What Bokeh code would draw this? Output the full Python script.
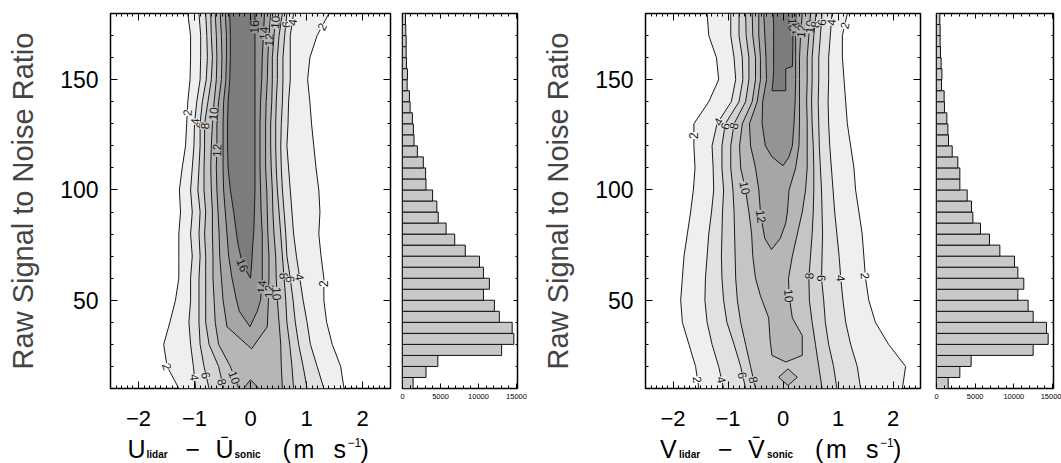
import math
import numpy as np
from bokeh.plotting import figure
from bokeh.layouts import row, column
from bokeh.models import (LinearAxis, SingleIntervalTicker, Range1d, ColumnDataSource,
                          CustomLabelingPolicy, Spacer)
from bokeh.core.properties import value
from bokeh.embed import file_html
from bokeh.resources import INLINE

FONT = "Liberation Sans"

# ---------------- data ----------------
LEVELS = [2, 4, 6, 8, 10, 12, 14, 16]
ROWS = [10, 20, 30, 40, 50, 60, 70, 80, 90, 100, 110, 120, 130, 140, 150, 160, 170, 180]

# U panel: x position (m/s) of each contour level, left and right branch
U2_LEFT = [-1.28, -1.49, -1.55, -1.44, -1.34, -1.28, -1.28, -1.28, -1.25, -1.27, -1.22, -1.16, -1.14, -1.12, -1.08, -1.07, -1.07, -1.12]
U2_RIGHT = [1.67, 1.61, 1.46, 1.36, 1.31, 1.31, 1.26, 1.22, 1.24, 1.22, 1.17, 1.13, 1.09, 1.06, 1.02, 1.06, 1.19, 1.40]
U4_LEFT = [-0.98, -1.02, -1.07, -1.10, -1.07, -1.07, -1.04, -1.07, -1.04, -1.07, -1.04, -1.01, -1.00, -0.96, -0.90, -0.89, -0.89, -0.92]
U4_RIGHT = [1.31, 1.19, 1.07, 1.01, 0.94, 0.88, 0.82, 0.77, 0.74, 0.71, 0.68, 0.65, 0.67, 0.68, 0.71, 0.71, 0.71, 0.77]
U6_LEFT = [-0.74, -0.83, -0.90, -0.92, -0.92, -0.92, -0.90, -0.92, -0.90, -0.94, -0.92, -0.90, -0.90, -0.86, -0.79, -0.77, -0.78, -0.80]
U6_RIGHT = [1.01, 0.94, 0.86, 0.80, 0.76, 0.71, 0.65, 0.63, 0.60, 0.57, 0.55, 0.54, 0.55, 0.57, 0.58, 0.58, 0.61, 0.65]
U8_LEFT = [-0.48, -0.57, -0.74, -0.80, -0.80, -0.80, -0.80, -0.82, -0.80, -0.83, -0.83, -0.82, -0.82, -0.76, -0.70, -0.68, -0.70, -0.71]
U8_RIGHT = [0.77, 0.74, 0.70, 0.65, 0.63, 0.60, 0.57, 0.54, 0.51, 0.48, 0.46, 0.45, 0.45, 0.46, 0.48, 0.48, 0.51, 0.57]
U10_LEFT = [-0.21, -0.36, -0.57, -0.63, -0.65, -0.67, -0.67, -0.68, -0.68, -0.70, -0.71, -0.70, -0.68, -0.65, -0.61, -0.60, -0.61, -0.63]
U10_RIGHT = [0.57, 0.55, 0.54, 0.51, 0.48, 0.46, 0.45, 0.42, 0.40, 0.39, 0.37, 0.36, 0.36, 0.38, 0.39, 0.39, 0.42, 0.45]
U12_SNR = [28, 38, 50, 60, 70, 80, 90, 100, 110, 120, 130, 140, 150, 160, 170, 180]
U12_LEFT = [0.02, -0.42, -0.49, -0.52, -0.55, -0.56, -0.58, -0.60, -0.61, -0.60, -0.60, -0.57, -0.52, -0.51, -0.52, -0.54]
U12_RIGHT = [0.02, 0.30, 0.32, 0.33, 0.33, 0.31, 0.30, 0.29, 0.27, 0.27, 0.27, 0.28, 0.30, 0.31, 0.33, 0.36]
U14_SNR = [38, 45, 50, 60, 70, 80, 90, 100, 110, 120, 130, 140, 150, 160, 170, 180]
U14_LEFT = [-0.01, -0.20, -0.25, -0.33, -0.39, -0.42, -0.45, -0.48, -0.49, -0.49, -0.49, -0.48, -0.44, -0.43, -0.43, -0.45]
U14_RIGHT = [-0.01, 0.12, 0.18, 0.21, 0.21, 0.21, 0.19, 0.18, 0.17, 0.17, 0.17, 0.18, 0.20, 0.21, 0.23, 0.25]
U16_SNR = [60, 66, 75, 82, 90, 100, 110, 120, 130, 140, 150, 160, 170, 180]
U16_LEFT = [0.0, -0.14, -0.22, -0.26, -0.30, -0.36, -0.40, -0.41, -0.41, -0.40, -0.37, -0.36, -0.36, -0.37]
U16_RIGHT = [0.0, 0.02, 0.04, 0.06, 0.07, 0.08, 0.08, 0.08, 0.08, 0.08, 0.08, 0.08, 0.08, 0.08]
U12_ISLAND_X = [-0.12, 0.0, 0.15]
U12_ISLAND_SNR = [10, 14, 10]

# V panel
V2_LEFT = [-1.53, -1.59, -1.71, -1.83, -1.86, -1.83, -1.80, -1.74, -1.68, -1.63, -1.60, -1.62, -1.62, -1.35, -1.17, -1.21, -1.35, -1.38]
V2_RIGHT = [2.17, 2.23, 1.92, 1.68, 1.56, 1.50, 1.47, 1.44, 1.38, 1.32, 1.29, 1.23, 1.17, 1.14, 1.11, 1.08, 1.08, 1.17]
V4_LEFT = [-1.08, -1.17, -1.29, -1.38, -1.42, -1.41, -1.38, -1.35, -1.30, -1.26, -1.27, -1.29, -1.20, -0.94, -0.86, -0.89, -0.95, -0.95]
V4_RIGHT = [1.41, 1.35, 1.23, 1.14, 1.09, 1.05, 1.02, 0.98, 0.94, 0.91, 0.88, 0.85, 0.83, 0.82, 0.83, 0.83, 0.86, 0.89]
V6_LEFT = [-0.68, -0.77, -0.89, -1.02, -1.08, -1.11, -1.12, -1.11, -1.10, -1.08, -1.11, -1.11, -1.05, -0.80, -0.73, -0.74, -0.80, -0.80]
V6_RIGHT = [0.98, 0.92, 0.83, 0.77, 0.74, 0.70, 0.71, 0.72, 0.71, 0.70, 0.68, 0.66, 0.65, 0.64, 0.65, 0.65, 0.68, 0.71]
V8_LEFT = [-0.50, -0.59, -0.68, -0.77, -0.83, -0.86, -0.87, -0.88, -0.89, -0.91, -0.95, -0.95, -0.89, -0.68, -0.62, -0.62, -0.67, -0.68]
V8_RIGHT = [0.71, 0.65, 0.59, 0.53, 0.48, 0.47, 0.50, 0.53, 0.55, 0.56, 0.56, 0.55, 0.53, 0.52, 0.53, 0.53, 0.56, 0.60]
V10_SNR = [22, 25, 31, 34, 42, 52, 60, 70, 80, 90, 100, 110, 120, 130, 140, 150, 160, 170, 180]
V10_LEFT = [0.05, -0.20, -0.23, -0.24, -0.26, -0.41, -0.50, -0.55, -0.57, -0.62, -0.68, -0.77, -0.79, -0.74, -0.56, -0.50, -0.50, -0.55, -0.56]
V10_RIGHT = [0.05, 0.35, 0.35, 0.35, 0.17, 0.11, 0.10, 0.17, 0.26, 0.35, 0.41, 0.44, 0.44, 0.44, 0.43, 0.44, 0.44, 0.47, 0.50]
V12_SNR = [73, 78, 85, 90, 100, 110, 120, 130, 140, 150, 160, 170, 180]
V12_LEFT = [-0.21, -0.33, -0.38, -0.41, -0.44, -0.50, -0.59, -0.61, -0.47, -0.41, -0.41, -0.44, -0.44]
V12_RIGHT = [-0.21, -0.05, 0.05, 0.08, 0.11, 0.23, 0.29, 0.30, 0.30, 0.30, 0.30, 0.32, 0.35]
V14_SNR = [111, 115, 120, 130, 140, 150, 160, 170, 180]
V14_LEFT = [0.0, -0.20, -0.32, -0.38, -0.37, -0.30, -0.31, -0.33, -0.35]
V14_RIGHT = [0.0, 0.11, 0.17, 0.20, 0.22, 0.23, 0.23, 0.23, 0.24]
V16_SNR = [145, 150, 155, 156, 165, 175, 180]
V16_LEFT = [-0.20, -0.18, -0.17, -0.17, -0.17, -0.17, -0.18]
V16_RIGHT = [0.05, 0.05, 0.05, 0.17, 0.18, 0.18, 0.17]
V10_ISLAND_X = [-0.08, 0.09, 0.26, 0.09]
V10_ISLAND_SNR = [15.1, 18.9, 15.1, 11.4]

# contour labels: level, branch, SNR
U_LABEL_LEVEL = [16, 14, 12, 10, 6, 4, 2, 2, 4, 6, 8, 10, 12, 16, 14, 12, 10, 8, 6, 4, 2, 2, 4, 6, 8, 10]
U_LABEL_SIDE = ["R", "R", "R", "R", "R", "R", "R", "L", "L", "L", "L", "L", "L", "L", "R", "R", "R", "R", "R", "R", "R", "L", "L", "L", "L", "L"]
U_LABEL_SNR = [174, 171, 168, 176, 175, 176, 174, 135, 131, 129.5, 129, 134.5, 118, 66, 56, 54, 53, 61, 59.5, 60.5, 57.5, 20, 15, 16, 13, 15]
V_LABEL_LEVEL = [16, 14, 12, 10, 8, 6, 4, 2, 2, 4, 6, 8, 10, 12, 10, 8, 6, 4, 2, 2, 4, 6, 8]
V_LABEL_SIDE = ["R", "R", "R", "R", "R", "R", "R", "R", "L", "L", "L", "L", "L", "L", "R", "R", "R", "R", "R", "L", "L", "L", "L"]
V_LABEL_SNR = [175, 173, 172, 174, 175, 176, 176, 174.5, 124.6, 131, 129, 129, 101, 88, 52, 61, 60, 60, 61, 14, 14, 16, 14]

# histogram of SNR
SNR_BIN_START = [10, 15, 20, 25, 30, 35, 40, 45, 50, 55, 60, 65, 70, 75, 80, 85, 90,
                 95, 100, 105, 110, 115, 120, 125, 130, 135, 140, 145, 150, 155, 160, 165, 170, 175]
U_COUNTS = [1390, 3090, 4650, 13040, 14650, 14430, 12740, 12090, 10650, 11430, 10650, 10130, 8260, 6870,
            5740, 4700, 4520, 3960, 3090, 3040, 2740, 1960, 1520, 1430, 1300, 1000, 910, 610, 650, 520,
            480, 480, 430, 390]
V_COUNTS = [1510, 3020, 4480, 12500, 14440, 14220, 12500, 11850, 10520, 11290, 10520, 10090, 8190, 6850,
            5690, 4700, 4530, 3970, 3020, 3020, 2760, 2030, 1550, 1470, 1340, 1030, 990, 650, 700, 600,
            520, 470, 470, 430]

BAND_COLORS = ["#efefef", "#e1e1e1", "#d3d3d3", "#c5c5c5", "#b6b6b6", "#a6a6a6", "#949494", "#7c7c7c"]

U_CONTOURS = {
    2: (ROWS, U2_LEFT, U2_RIGHT), 4: (ROWS, U4_LEFT, U4_RIGHT), 6: (ROWS, U6_LEFT, U6_RIGHT),
    8: (ROWS, U8_LEFT, U8_RIGHT), 10: (ROWS, U10_LEFT, U10_RIGHT), 12: (U12_SNR, U12_LEFT, U12_RIGHT),
    14: (U14_SNR, U14_LEFT, U14_RIGHT), 16: (U16_SNR, U16_LEFT, U16_RIGHT),
}
V_CONTOURS = {
    2: (ROWS, V2_LEFT, V2_RIGHT), 4: (ROWS, V4_LEFT, V4_RIGHT), 6: (ROWS, V6_LEFT, V6_RIGHT),
    8: (ROWS, V8_LEFT, V8_RIGHT), 10: (V10_SNR, V10_LEFT, V10_RIGHT), 12: (V12_SNR, V12_LEFT, V12_RIGHT),
    14: (V14_SNR, V14_LEFT, V14_RIGHT), 16: (V16_SNR, V16_LEFT, V16_RIGHT),
}
U_ISLANDS = [(12, U12_ISLAND_X, U12_ISLAND_SNR)]
V_ISLANDS = [(10, V10_ISLAND_X, V10_ISLAND_SNR)]

# ---------------- layout constants ----------------
H_TOP = 436          # height of the plot row
H_STRIP = 27         # height of the x-title strip
TOP, BOTTOM = 13, 48
FRAME_H = H_TOP - TOP - BOTTOM


def no_labels():
    return CustomLabelingPolicy(code="for (const i of indices) indices.unset(i)")


def style_axis(ax, major_in, minor_in, label_size, standoff, hide=False):
    ax.major_tick_in = major_in
    ax.major_tick_out = 0
    ax.minor_tick_in = minor_in
    ax.minor_tick_out = 0
    ax.major_tick_line_color = "black"
    ax.minor_tick_line_color = "black"
    ax.axis_line_color = None
    ax.major_label_text_font = FONT
    ax.major_label_text_font_size = label_size
    ax.major_label_text_color = "black"
    ax.major_label_standoff = standoff
    if hide:
        ax.major_label_policy = no_labels()


def contour_fig(contours, islands, lab_level, lab_side, lab_snr, width, border_right):
    frame_w = width - 110 - border_right
    p = figure(width=width, height=H_TOP, x_range=Range1d(-2.5, 2.5), y_range=Range1d(10, 180),
               title=None, output_backend="svg", toolbar_location=None,
               min_border_left=110, min_border_right=border_right,
               min_border_top=TOP, min_border_bottom=BOTTOM)
    p.grid.visible = False
    p.outline_line_color = "black"
    p.outline_line_width = 1.5
    p.background_fill_color = "white"

    col = dict(zip(LEVELS, BAND_COLORS))
    for lev in LEVELS:
        snr, left, right = contours[lev]
        xs = list(left) + list(right)[::-1]
        ys = list(snr) + list(snr)[::-1]
        p.patch(xs, ys, fill_color=col[lev], line_color="#1a1a1a", line_width=1)
        for ilev, ix, iy in islands:
            if ilev == lev:
                p.patch(ix, iy, fill_color=col[ilev], line_color="#1a1a1a", line_width=1)

    # contour labels along the lines
    sx = frame_w / 5.0
    sy = FRAME_H / 170.0
    lx, ly, la, lt, lb = [], [], [], [], []
    for lev, side, s in zip(lab_level, lab_side, lab_snr):
        snr, left, right = contours[lev]
        br = left if side == "L" else right
        x = float(np.interp(s, snr, br))
        d = (float(np.interp(s + 2, snr, br)) - float(np.interp(s - 2, snr, br))) / 4.0
        ang = math.atan2(sy, d * sx)
        if ang > math.pi / 2:
            ang -= math.pi
        lx.append(x)
        ly.append(s)
        la.append(ang)
        lt.append(str(lev))
        k = LEVELS.index(lev)
        lb.append(BAND_COLORS[k - 1] if k > 0 else "white")
    src = ColumnDataSource(dict(x=lx, y=ly, angle=la, text=lt, bg=lb))
    p.text(x="x", y="y", text="text", angle="angle", source=src, text_font=value(FONT),
           text_font_size="12px", text_align="center", text_baseline="middle",
           text_color="#1a1a1a", background_fill_color="bg")

    # axes
    p.xaxis.ticker = SingleIntervalTicker(interval=1, num_minor_ticks=10)
    p.xaxis.major_label_overrides = {-2: "\u22122", -1: "\u22121"}
    style_axis(p.xaxis[0], 7, 3, "22px", 22)
    p.yaxis.ticker = SingleIntervalTicker(interval=50, num_minor_ticks=5)
    style_axis(p.yaxis[0], 7, 3, "23px", 12)
    p.yaxis.axis_label = "Raw Signal to Noise Ratio"
    p.yaxis.axis_label_text_font = FONT
    p.yaxis.axis_label_text_font_size = "29px"
    p.yaxis.axis_label_text_font_style = "normal"
    p.yaxis.axis_label_standoff = 18

    top = LinearAxis(ticker=SingleIntervalTicker(interval=1, num_minor_ticks=10))
    style_axis(top, 7, 3, "1px", 0, hide=True)
    p.add_layout(top, "above")
    rgt = LinearAxis(ticker=SingleIntervalTicker(interval=50, num_minor_ticks=5))
    style_axis(rgt, 7, 3, "1px", 0, hide=True)
    p.add_layout(rgt, "right")
    return p


def title_strip(sym, width, border_right):
    """x-axis title with subscripts / superscript, aligned under the contour frame."""
    frame_w = width - 110 - border_right
    sx = frame_w / 5.0
    p = figure(width=width, height=H_STRIP, x_range=Range1d(-2.5, 2.5), y_range=Range1d(0, H_STRIP),
               title=None, x_axis_location=None, y_axis_location=None, output_backend="svg",
               toolbar_location=None, min_border_left=110, min_border_right=border_right,
               min_border_top=0, min_border_bottom=0)
    p.grid.visible = False
    p.outline_line_color = None
    main, sub, sup = 15, 9.5, 21.5
    pieces = [
        (sym, -123, main, "25px", "normal"),
        ("lidar", -104, sub, "10px", "bold"),
        ("\u2212", -65, main, "25px", "normal"),
        (sym + "\u0304", -35, main, "25px", "normal"),
        ("sonic", -16, sub, "10px", "bold"),
        ("(", 32, main, "25px", "normal"),
        ("m", 43, main, "25px", "normal"),
        ("s", 83, main, "25px", "normal"),
        ("\u22121", 97, sup, "12px", "normal"),
        (")", 110, main, "25px", "normal"),
    ]
    for txt, off, yy, fs, st in pieces:
        p.text(x=[off / sx], y=[yy], text=[txt], text_font=value(FONT), text_font_size=fs,
               text_font_style=st, text_align="left", text_baseline="middle",
               text_color="black")
    return p


def hist_fig(counts, width, border_left, border_right):
    p = figure(width=width, height=H_TOP, x_range=Range1d(0, 15130), y_range=Range1d(10, 180),
               title=None, y_axis_location="right", output_backend="svg", toolbar_location=None,
               min_border_left=border_left, min_border_right=border_right,
               min_border_top=TOP, min_border_bottom=BOTTOM)
    p.grid.visible = False
    p.outline_line_color = "black"
    p.outline_line_width = 1.5
    centers = [s + 2.5 for s in SNR_BIN_START]
    p.hbar(y=centers, left=0, right=counts, height=5, fill_color="#c8c8c8",
           line_color="#111111", line_width=1)
    p.xaxis.ticker = SingleIntervalTicker(interval=5000, num_minor_ticks=5)
    style_axis(p.xaxis[0], 5, 3, "7.5px", 5)
    p.yaxis.ticker = SingleIntervalTicker(interval=50, num_minor_ticks=5)
    style_axis(p.yaxis[0], 4, 2, "1px", 0, hide=True)
    top = LinearAxis(ticker=SingleIntervalTicker(interval=5000, num_minor_ticks=5))
    style_axis(top, 5, 3, "1px", 0, hide=True)
    p.add_layout(top, "above")
    return p


p1 = contour_fig(U_CONTOURS, U_ISLANDS, U_LABEL_LEVEL, U_LABEL_SIDE, U_LABEL_SNR, 395, 5)
p2 = hist_fig(U_COUNTS, 140, 7, 18)
p3 = contour_fig(V_CONTOURS, V_ISLANDS, V_LABEL_LEVEL, V_LABEL_SIDE, V_LABEL_SNR, 396, 11)
p4 = hist_fig(V_COUNTS, 130, 5, 8)
s1 = title_strip("U", 395, 5)
s3 = title_strip("V", 396, 11)

layout = column(row(p1, p2, p3, p4),
                row(s1, Spacer(width=140, height=H_STRIP), s3, Spacer(width=130, height=H_STRIP)))
open("out.html", "w").write(file_html(layout, INLINE))
